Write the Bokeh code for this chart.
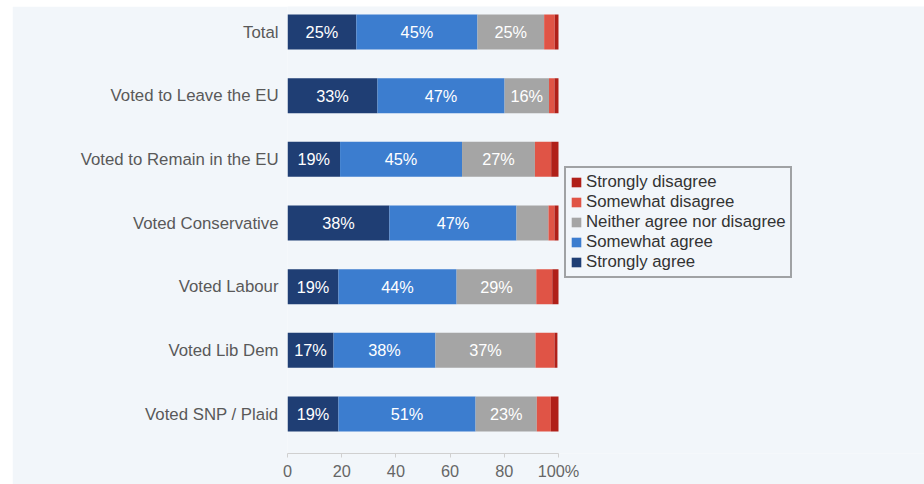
import numpy as np
from bokeh.plotting import figure
from bokeh.models import (ColumnDataSource, Range1d, FixedTicker, Legend, LegendItem)
from bokeh.core.properties import value
from bokeh.embed import file_html
from bokeh.resources import INLINE

categories = ["Total", "Voted to Leave the EU", "Voted to Remain in the EU",
              "Voted Conservative", "Voted Labour", "Voted Lib Dem", "Voted SNP / Plaid"]
strongly_agree = [25.4, 33.2, 19.4, 37.6, 18.8, 17.0, 18.8]
somewhat_agree = [44.7, 46.9, 45.0, 46.9, 43.6, 37.6, 50.6]
neither = [24.6, 16.4, 26.9, 11.8, 29.4, 36.9, 22.6]
somewhat_disagree = [3.9, 2.0, 6.0, 2.2, 5.9, 7.0, 5.2]
strongly_disagree = [1.4, 1.5, 2.7, 1.5, 2.3, 1.1, 2.8]

series_names = ["Strongly agree", "Somewhat agree", "Neither agree nor disagree",
                "Somewhat disagree", "Strongly disagree"]
series_keys = ["sa", "ag", "ne", "sd", "sdd"]
colors = ["#1f3e74", "#3c7dcf", "#a5a5a5", "#e05446", "#b02019"]
x_ticks = [0, 20, 40, 60, 80, 100]

FONT = "Liberation Sans"
BG = "#f2f6fa"

ypos = list(range(len(categories)))
data = dict(y=ypos, sa=strongly_agree, ag=somewhat_agree, ne=neither,
            sd=somewhat_disagree, sdd=strongly_disagree)
source = ColumnDataSource(data)

frame_w = 637
px_per_100 = 271
p = figure(width=912, height=478, output_backend="svg", toolbar_location=None,
           x_range=Range1d(0, 100 * frame_w / px_per_100),
           y_range=Range1d(6.62, -0.4005),
           min_border_left=275, min_border_right=0, min_border_top=0, min_border_bottom=31)
p.styles = {"margin-left": "12px", "margin-top": "6px"}
p.background_fill_color = BG
p.border_fill_color = BG
p.outline_line_color = None
p.grid.visible = False

renderers = p.hbar_stack(series_keys, y="y", height=0.55, color=colors, source=source,
                         line_color=None)

# labels inside segments
vals = np.array([strongly_agree, somewhat_agree, neither, somewhat_disagree, strongly_disagree])
cum = np.cumsum(vals, axis=0)
lx, ly, lt = [], [], []
for s in range(vals.shape[0]):
    for i in range(vals.shape[1]):
        v = vals[s, i]
        if v >= 15:
            lx.append(cum[s, i] - v / 2)
            ly.append(ypos[i])
            lt.append(f"{round(v)}%")
p.text(x=lx, y=ly, text=lt, text_align="center", text_baseline="middle",
       text_color="white", text_font=value(FONT), text_font_size="16.3px")

# axes
p.xaxis.ticker = FixedTicker(ticks=x_ticks)
p.xaxis.major_label_overrides = {100: "100%"}
p.xaxis.bounds = (0, 100)
p.xaxis.axis_line_color = "#d0d0d0"
p.xaxis.major_tick_line_color = "#d0d0d0"
p.xaxis.major_tick_in = 0
p.xaxis.major_tick_out = 4
p.xaxis.minor_tick_line_color = None
p.xaxis.major_label_text_font = FONT
p.xaxis.major_label_text_font_size = "16.3px"
p.xaxis.major_label_text_color = "#666666"
p.xaxis.major_label_standoff = 4

p.yaxis.ticker = FixedTicker(ticks=ypos)
p.yaxis.major_label_overrides = {i: c for i, c in zip(ypos, categories)}
p.yaxis.axis_line_color = None
p.yaxis.major_tick_line_color = None
p.yaxis.minor_tick_line_color = None
p.yaxis.major_label_text_font = FONT
p.yaxis.major_label_text_font_size = "16.8px"
p.yaxis.major_label_text_color = "#595959"
p.yaxis.major_label_standoff = 3

items = [LegendItem(label=n, renderers=[r]) for n, r in zip(series_names, renderers)][::-1]
legend = Legend(items=items, location=(277, 175))
legend.label_text_font = FONT
legend.label_text_font_size = "16.8px"
legend.label_text_color = "#333333"
legend.label_height = 20
legend.glyph_height = 12
legend.glyph_width = 12
legend.spacing = 0
legend.padding = 4
legend.margin = 0
legend.label_standoff = 4
legend.border_line_color = "#4d4d4d"
legend.border_line_width = 2
legend.background_fill_color = BG
legend.background_fill_alpha = 1
p.add_layout(legend)

open("out.html", "w").write(file_html(p, INLINE))
